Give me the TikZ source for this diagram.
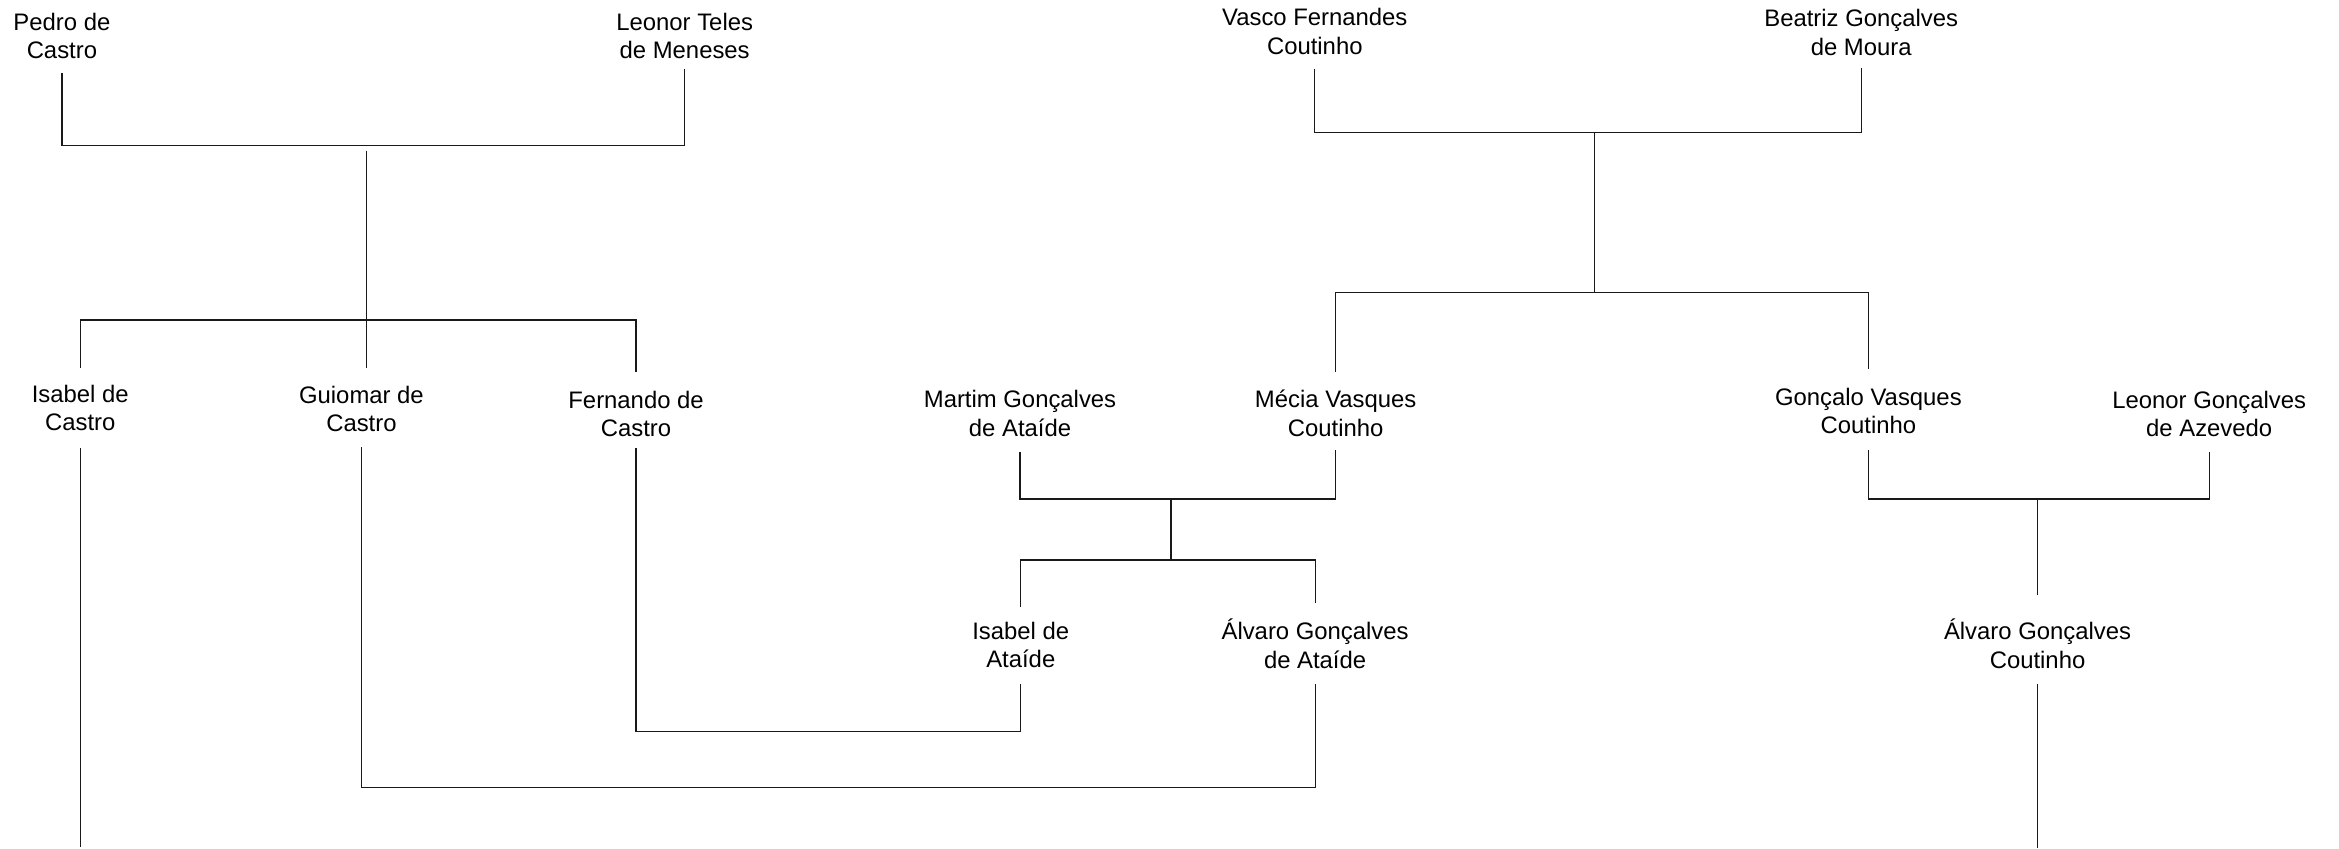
\documentclass[tikz,border=0pt]{standalone}
\usepackage{fontspec}
\setmainfont{Liberation Sans}
\usetikzlibrary{calc}
\newcommand\twoline[2]{\strut#1\\\strut#2}
\begin{document}
\begin{tikzpicture}[x=1pt,y=-1pt,
  person/.style={align=center, inner sep=0pt, font=\fontsize{16}{19}\selectfont},
  link/.style={draw=black!90, line width=0.8pt}]
\useasboundingbox (0,0) rectangle (1568,569);
% people
\node[person] (pedro)    at (41.5,25.9)  {\twoline{Pedro de}{Castro}};
\node[person] (leonorT)  at (459,25.9)   {\twoline{Leonor Teles}{de Meneses}};
\node[person] (vasco)    at (881.4,23)   {\twoline{Vasco Fernandes}{Coutinho}};
\node[person] (beatriz)  at (1247.7,23.7){\twoline{Beatriz Gonçalves}{de Moura}};
\node[person] (isabelC)  at (53.8,275.4) {\twoline{Isabel de}{Castro}};
\node[person] (guiomar)  at (242.3,276.2){\twoline{Guiomar de}{Castro}};
\node[person] (fernando) at (426.4,279.3){\twoline{Fernando de}{Castro}};
\node[person] (martim)   at (683.8,279.2){\twoline{Martim Gonçalves}{de Ataíde}};
\node[person] (mecia)    at (895.4,279.2){\twoline{Mécia Vasques}{Coutinho}};
\node[person] (goncalo)  at (1252.5,277.3){\twoline{Gonçalo Vasques}{Coutinho}};
\node[person] (leonorA)  at (1481,279.3) {\twoline{Leonor Gonçalves}{de Azevedo}};
\node[person] (isabelA)  at (684.3,434.3){\twoline{Isabel de}{Ataíde}};
\node[person] (alvaroA)  at (881.6,434.3){\twoline{Álvaro Gonçalves}{de Ataíde}};
\node[person] (alvaroC)  at (1365.9,434.3){\twoline{Álvaro Gonçalves}{Coutinho}};
% junctions
\coordinate (j1) at (245.5,97.5);
\coordinate (d1) at (245.5,101);
\coordinate (c1) at (245.5,214.5);
\coordinate (isabelEnd) at (53.8,568);
\coordinate (k1) at (560,528);
\coordinate (k2) at (555,490.5);
\coordinate (j2) at (1069,89);
\coordinate (c2) at (1069,196);
\coordinate (j3) at (785,334.5);
\coordinate (c3) at (785,375.4);
\coordinate (j4) at (1365.9,334.5);
\coordinate (alvaroEnd) at (1365.9,568.5);
% Pedro + Leonor Teles
\draw[link] ($(pedro.south)+(0,4)$) |- (j1) -| ($(leonorT.south)+(0,1)$);
\draw[link] (d1) -- ($(d1 |- guiomar.north)+(0,-10.4)$);
\draw[link] ($(isabelC.north)+(0,-9.5)$) |- (c1) -| ($(fernando.north)+(0,-10.5)$);
\draw[link] ($(isabelC.south)+(0,6)$) -- (isabelEnd);
% marriages
\draw[link] ($(guiomar.south)+(0,4.5)$) |- (k1) -| ($(alvaroA.south)+(0,5)$);
\draw[link] ($(fernando.south)+(0,2)$) |- (k2) -| ($(isabelA.south)+(0,5)$);
% Vasco + Beatriz
\draw[link] ($(vasco.south)+(0,4)$) |- (j2) -| ($(beatriz.south)+(0,3)$);
\draw[link] (j2) -- (c2);
\draw[link] ($(mecia.north)+(0,-10.5)$) |- (c2) -| ($(goncalo.north)+(0,-10.5)$);
% Martim + Mecia
\draw[link] ($(martim.south)+(0,4.5)$) |- (j3) -| ($(mecia.south)+(0,3.5)$);
\draw[link] (j3) -- (c3);
\draw[link] ($(isabelA.north)+(0,-8.5)$) |- (c3) -| ($(alvaroA.north)+(0,-10.5)$);
% Goncalo + Leonor Azevedo
\draw[link] ($(goncalo.south)+(0,5.2)$) |- (j4) -| ($(leonorA.south)+(0,4.3)$);
\draw[link] (j4) -- ($(j4 |- alvaroC.north)+(0,-16)$);
\draw[link] ($(alvaroC.south)+(0,4.7)$) -- (alvaroEnd);
\end{tikzpicture}
\end{document}
